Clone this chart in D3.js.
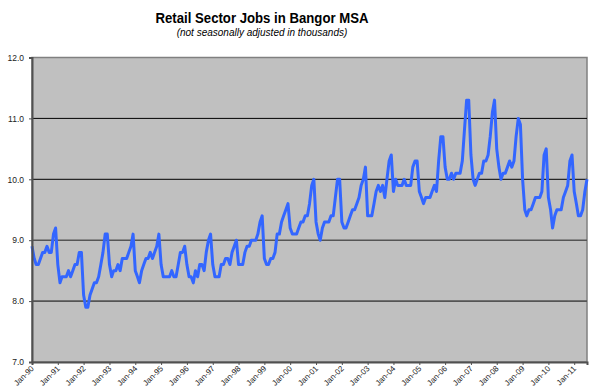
<!DOCTYPE html>
<html>
<head>
<meta charset="utf-8">
<script src="https://cdn.jsdelivr.net/npm/d3@7/dist/d3.min.js"></script>
<style>
  body { margin: 0; background: #fff; }
  text { font-family: "Liberation Sans", Arial, sans-serif; }
</style>
</head>
<body>
<svg id="chart" width="591" height="391"></svg>
<script>
// Retail sector employment, Bangor MSA, thousands (monthly, not seasonally adjusted)
const firstYear = 1990;
const jobs1990 = [8.9, 8.7, 8.6, 8.6, 8.7, 8.8, 8.8, 8.9, 8.8, 8.8, 9.1, 9.2];
const jobs1991 = [8.6, 8.3, 8.4, 8.4, 8.4, 8.5, 8.4, 8.5, 8.6, 8.6, 8.8, 8.8];
const jobs1992 = [8.1, 7.9, 7.9, 8.1, 8.2, 8.3, 8.3, 8.4, 8.6, 8.8, 9.1, 9.1];
const jobs1993 = [8.6, 8.4, 8.5, 8.5, 8.6, 8.5, 8.7, 8.7, 8.7, 8.8, 8.9, 9.1];
const jobs1994 = [8.5, 8.4, 8.3, 8.5, 8.6, 8.7, 8.7, 8.8, 8.7, 8.8, 8.9, 9.1];
const jobs1995 = [8.6, 8.4, 8.4, 8.4, 8.4, 8.5, 8.4, 8.4, 8.6, 8.8, 8.8, 8.9];
const jobs1996 = [8.6, 8.4, 8.4, 8.3, 8.5, 8.4, 8.6, 8.6, 8.5, 8.8, 9.0, 9.1];
const jobs1997 = [8.6, 8.4, 8.4, 8.4, 8.6, 8.6, 8.7, 8.7, 8.6, 8.8, 8.9, 9.0];
const jobs1998 = [8.6, 8.6, 8.6, 8.8, 8.9, 8.9, 9.0, 9.0, 9.0, 9.1, 9.3, 9.4];
const jobs1999 = [8.7, 8.6, 8.6, 8.7, 8.7, 8.8, 9.1, 9.1, 9.3, 9.4, 9.5, 9.6];
const jobs2000 = [9.2, 9.1, 9.1, 9.1, 9.2, 9.3, 9.3, 9.4, 9.4, 9.6, 9.9, 10.0];
const jobs2001 = [9.3, 9.1, 9.0, 9.2, 9.3, 9.3, 9.3, 9.4, 9.4, 9.7, 10.0, 10.0];
const jobs2002 = [9.3, 9.2, 9.2, 9.3, 9.4, 9.5, 9.5, 9.6, 9.7, 9.9, 10.0, 10.2];
const jobs2003 = [9.4, 9.4, 9.4, 9.6, 9.8, 9.9, 9.8, 9.9, 9.7, 10.0, 10.3, 10.4];
const jobs2004 = [9.8, 10.0, 9.9, 9.9, 9.9, 10.0, 9.9, 9.9, 9.9, 10.2, 10.3, 10.3];
const jobs2005 = [9.8, 9.7, 9.6, 9.7, 9.7, 9.7, 9.8, 9.9, 9.8, 10.3, 10.7, 10.7];
const jobs2006 = [10.2, 10.0, 10.0, 10.1, 10.0, 10.1, 10.1, 10.1, 10.3, 10.8, 11.3, 11.3];
const jobs2007 = [10.4, 10.0, 9.9, 10.0, 10.1, 10.1, 10.3, 10.3, 10.4, 10.7, 11.1, 11.3];
const jobs2008 = [10.5, 10.2, 10.0, 10.1, 10.1, 10.2, 10.3, 10.2, 10.3, 10.7, 11.0, 10.9];
const jobs2009 = [10.0, 9.5, 9.4, 9.5, 9.5, 9.6, 9.7, 9.7, 9.7, 9.8, 10.4, 10.5];
const jobs2010 = [9.7, 9.5, 9.2, 9.4, 9.5, 9.5, 9.5, 9.7, 9.8, 9.9, 10.3, 10.4];
const jobs2011 = [9.8, 9.6, 9.4, 9.4, 9.5, 9.8, 10.0];

const yTickValues = [7, 8, 9, 10, 11, 12];
const titleText = "Retail Sector Jobs in Bangor MSA";
const subtitleText = "(not seasonally adjusted in thousands)";

const monthly = [
  jobs1990, jobs1991, jobs1992, jobs1993, jobs1994, jobs1995, jobs1996, jobs1997,
  jobs1998, jobs1999, jobs2000, jobs2001, jobs2002, jobs2003, jobs2004, jobs2005,
  jobs2006, jobs2007, jobs2008, jobs2009, jobs2010, jobs2011
].flat().map((v, i) => ({ date: new Date(firstYear, i, 1), value: v }));

const svg = d3.select("#chart");
const plot = { left: 32, top: 57.5, right: 587, bottom: 362 };

const x = d3.scaleTime()
  .domain(d3.extent(monthly, d => d.date))
  .range([plot.left, plot.right]);
const y = d3.scaleLinear()
  .domain([7, 12])
  .range([plot.bottom, plot.top]);

// Titles
svg.append("text")
  .attr("x", 262).attr("y", 22.5)
  .attr("text-anchor", "middle")
  .attr("font-size", 15).attr("font-weight", "bold")
  .attr("textLength", 213).attr("lengthAdjust", "spacingAndGlyphs")
  .attr("fill", "#000")
  .text(titleText);
svg.append("text")
  .attr("x", 262).attr("y", 35.5)
  .attr("text-anchor", "middle")
  .attr("font-size", 10).attr("font-style", "italic")
  .attr("fill", "#000")
  .text(subtitleText);

// Plot background
svg.append("rect")
  .attr("x", plot.left).attr("y", plot.top)
  .attr("width", plot.right - plot.left).attr("height", plot.bottom - plot.top)
  .attr("fill", "#c0c0c0")
  .attr("stroke", "#808080").attr("stroke-width", 1.5);

// Horizontal gridlines
svg.append("g")
  .selectAll("line")
  .data(yTickValues.filter(v => v > 7 && v < 12))
  .join("line")
  .attr("x1", plot.left).attr("x2", plot.right)
  .attr("y1", d => y(d)).attr("y2", d => y(d))
  .attr("stroke", d => d >= 10 ? "#000" : "#555")
  .attr("stroke-width", d => d >= 10 ? 1 : 1.6);

// Series line
svg.append("path")
  .datum(monthly)
  .attr("fill", "none")
  .attr("stroke", "#3366ff")
  .attr("stroke-width", 3)
  .attr("stroke-linejoin", "round")
  .attr("d", d3.line().x(d => x(d.date)).y(d => y(d.value)));

// Y axis
const yAxis = svg.append("g")
  .attr("transform", `translate(${plot.left},0)`)
  .call(d3.axisLeft(y).tickValues(yTickValues).tickFormat(d3.format(".1f")).tickSize(3).tickPadding(5));
yAxis.select(".domain").attr("stroke", "#505050").attr("stroke-width", 2);
yAxis.selectAll(".tick line").attr("stroke", "#505050");
yAxis.selectAll(".tick text")
  .attr("font-size", 8.5).attr("fill", "#222")
  .style("font-family", "'Liberation Sans', Arial, sans-serif");

// X axis with rotated year labels
const xAxis = svg.append("g")
  .attr("transform", `translate(0,${plot.bottom})`)
  .call(d3.axisBottom(x).ticks(d3.timeYear.every(1)).tickFormat(d3.timeFormat("%b-%y")).tickSizeOuter(0).tickSize(3));
xAxis.select(".domain").attr("stroke", "#505050").attr("stroke-width", 2);
xAxis.selectAll(".tick line").attr("stroke", "#505050");
xAxis.selectAll(".tick text")
  .attr("font-size", 8).attr("fill", "#222")
  .style("font-family", "'Liberation Sans', Arial, sans-serif")
  .attr("text-anchor", "end")
  .attr("y", 0).attr("dy", 0)
  .attr("transform", "translate(2,7) rotate(-45)");
</script>
</body>
</html>
